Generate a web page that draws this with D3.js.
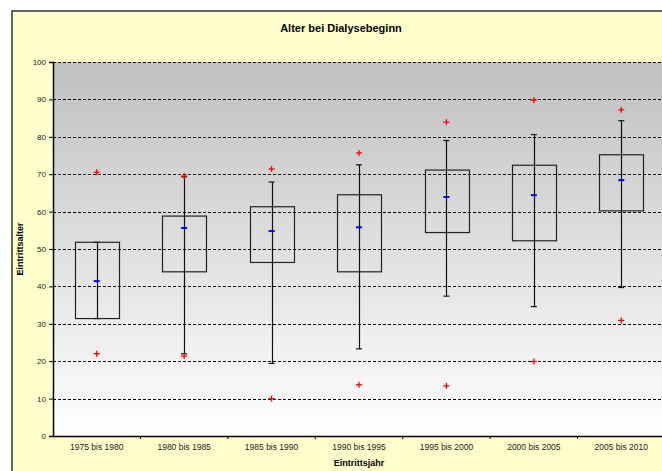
<!DOCTYPE html>
<html><head><meta charset="utf-8">
<script src="https://cdn.jsdelivr.net/npm/d3@7"></script>
<style>body{margin:0;background:#fff;}svg{display:block;font-family:"Liberation Sans",Arial,sans-serif;}</style>
</head><body>
<svg id="c" width="662" height="471"></svg>
<script>
const categories = ["1975 bis 1980","1980 bis 1985","1985 bis 1990","1990 bis 1995","1995 bis 2000","2000 bis 2005","2005 bis 2010"];
const q1Values     = [31.4, 43.9, 46.4, 43.9, 54.4, 52.2, 60.2];
const q3Values     = [51.8, 58.8, 61.3, 64.5, 71.1, 72.4, 75.2];
const medianValues = [41.4, 55.6, 54.8, 55.8, 63.9, 64.4, 68.4];
const whiskerLow   = [31.4, 22.0, 19.4, 23.3, 37.4, 34.6, 39.7];
const whiskerHigh  = [51.8, 69.3, 67.9, 72.5, 79.0, 80.6, 84.3];
const outlierHigh  = [70.5, 69.5, 71.4, 75.7, 83.9, 89.8, 87.2];
const outlierLow   = [22.0, 21.4, 10.0, 13.7, 13.4, 19.9, 30.9];
const yTicks = [0,10,20,30,40,50,60,70,80,90,100];
const title = "Alter bei Dialysebeginn";
const xTitle = "Eintrittsjahr";
const yTitle = "Eintrittsalter";

const svg = d3.select("#c");
const L = 53, R = 665, T = 62, B = 436;

// outer frame
svg.append("rect").attr("x",12).attr("y",11).attr("width",700).attr("height",500)
  .attr("fill","#FFFFCC").attr("stroke","#333").attr("stroke-width",1.5);

const defs = svg.append("defs");
const g = defs.append("linearGradient").attr("id","bg").attr("x1",0).attr("y1",0).attr("x2",0).attr("y2",1);
g.append("stop").attr("offset","0%").attr("stop-color","#C0C0C0");
g.append("stop").attr("offset","100%").attr("stop-color","#FFFFFF");

const x = d3.scaleBand().domain(categories).range([L,R]).paddingInner(0).paddingOuter(0);
const y = d3.scaleLinear().domain([0,100]).range([B,T]);

svg.append("rect").attr("x",L).attr("y",T).attr("width",R-L).attr("height",B-T).attr("fill","url(#bg)");

// gridlines
svg.append("g").selectAll("line").data(yTicks.filter(d=>d>0)).join("line")
  .attr("x1",L).attr("x2",R).attr("y1",d=>Math.round(y(d))+0.5).attr("y2",d=>Math.round(y(d))+0.5)
  .attr("stroke","#000").attr("stroke-width",1).attr("stroke-dasharray","3,2");

// axes
const yAxis = svg.append("g").attr("transform",`translate(${L},0)`)
  .call(d3.axisLeft(y).tickValues(yTicks).tickSize(4).tickPadding(3));
yAxis.select(".domain").attr("stroke","#000").attr("stroke-width",1.5);
yAxis.selectAll("text").attr("font-size",8).attr("fill","#222").attr("font-family","Liberation Sans, Arial");

const xAxis = svg.append("g").attr("transform",`translate(0,${B})`)
  .call(d3.axisBottom(x).tickSize(0).tickPadding(8));
xAxis.select(".domain").attr("stroke","#000").attr("stroke-width",1.5);
xAxis.selectAll("text").attr("font-size",8.5).attr("fill","#222").attr("font-family","Liberation Sans, Arial");
// category boundary ticks
svg.append("g").selectAll("line").data(categories.slice(1)).join("line")
  .attr("x1",d=>x(d)).attr("x2",d=>x(d)).attr("y1",B).attr("y2",B+3).attr("stroke","#000");

const bw = x.bandwidth()/2;
const cx = d=>x(d)+x.bandwidth()/2;
const idx = categories.map((c,i)=>i);

// whiskers
const wg = svg.append("g");
wg.selectAll("line.w").data(idx).join("line").attr("class","w")
  .attr("x1",i=>Math.round(cx(categories[i]))+0.5).attr("x2",i=>Math.round(cx(categories[i]))+0.5)
  .attr("y1",i=>y(whiskerLow[i])).attr("y2",i=>y(whiskerHigh[i]))
  .attr("stroke","#111").attr("stroke-width",1.2);
wg.selectAll("line.cl").data(idx).join("line").attr("class","cl")
  .attr("x1",i=>cx(categories[i])-3).attr("x2",i=>cx(categories[i])+3)
  .attr("y1",i=>y(whiskerLow[i])).attr("y2",i=>y(whiskerLow[i]))
  .attr("stroke","#111").attr("stroke-width",1.2);
wg.selectAll("line.ch").data(idx).join("line").attr("class","ch")
  .attr("x1",i=>cx(categories[i])-3).attr("x2",i=>cx(categories[i])+3)
  .attr("y1",i=>y(whiskerHigh[i])).attr("y2",i=>y(whiskerHigh[i]))
  .attr("stroke","#111").attr("stroke-width",1.2);

// boxes
svg.append("g").selectAll("rect").data(idx).join("rect")
  .attr("x",i=>Math.round(cx(categories[i])-bw/2)+0.5)
  .attr("y",i=>y(q3Values[i]))
  .attr("width",Math.round(bw))
  .attr("height",i=>y(q1Values[i])-y(q3Values[i]))
  .attr("fill","none").attr("stroke","#222").attr("stroke-width",1.2);

// medians
svg.append("g").selectAll("line").data(idx).join("line")
  .attr("x1",i=>cx(categories[i])-3).attr("x2",i=>cx(categories[i])+3)
  .attr("y1",i=>y(medianValues[i])).attr("y2",i=>y(medianValues[i]))
  .attr("stroke","#0000EE").attr("stroke-width",2);

// outliers (red plus)
const pts = [];
idx.forEach(i=>{pts.push({c:categories[i],v:outlierHigh[i]});pts.push({c:categories[i],v:outlierLow[i]});});
const og = svg.append("g").selectAll("g").data(pts).join("g")
  .attr("transform",d=>`translate(${cx(d.c)},${y(d.v)})`);
og.append("line").attr("x1",-3).attr("x2",3).attr("y1",0).attr("y2",0).attr("stroke","#FF0000").attr("stroke-width",1.3);
og.append("line").attr("x1",0).attr("x2",0).attr("y1",-3).attr("y2",3).attr("stroke","#FF0000").attr("stroke-width",1.3);

// titles
svg.append("text").attr("x",341).attr("y",32).attr("text-anchor","middle")
  .attr("font-size",11).attr("font-weight","bold").attr("fill","#000").text(title);
svg.append("text").attr("x",(L+R)/2).attr("y",466).attr("text-anchor","middle")
  .attr("font-size",9).attr("font-weight","bold").attr("fill","#000").text(xTitle);
svg.append("text").attr("transform",`translate(23,${(T+B)/2}) rotate(-90)`).attr("text-anchor","middle")
  .attr("font-size",9).attr("font-weight","bold").attr("fill","#000").text(yTitle);
</script>
</body></html>
